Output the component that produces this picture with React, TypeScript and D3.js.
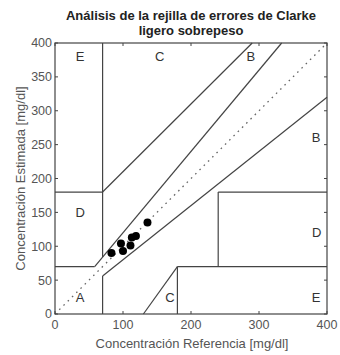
import React from "react";
import * as d3 from "d3";

const refValues = [83, 97, 100, 111, 113, 119, 136];
const estValues = [90, 104, 93, 101, 113, 115, 135];
const ticks = [0, 100, 200, 300, 400];
const yTicks = [0, 50, 100, 150, 200, 250, 300, 350, 400];
const zoneSegments: [number, number, number, number][] = [
  [0, 70, 175 / 3, 70],
  [175 / 3, 70, 400 / 1.2, 400],
  [70, 84, 70, 400],
  [0, 180, 70, 180],
  [70, 180, 290, 400],
  [70, 0, 70, 56],
  [70, 56, 400, 320],
  [180, 0, 180, 70],
  [180, 70, 400, 70],
  [240, 70, 240, 180],
  [240, 180, 400, 180],
  [130, 0, 180, 70],
];
const zoneLabels = ["E", "C", "B", "B", "D", "D", "A", "C", "E"];
const labelX = [37, 154, 288, 384, 37, 385, 37, 169, 384];
const labelY = [380, 380, 380, 260, 150, 120, 25, 25, 25];

export default function App() {
  const x = d3.scaleLinear().domain([0, 400]).range([55, 327]);
  const y = d3.scaleLinear().domain([0, 400]).range([314, 43]);
  const font = "'Liberation Sans', Arial, sans-serif";
  const gray = "#555";
  return (
    <svg width={340} height={355} style={{ position: "absolute", left: 0, top: 0 }} fontFamily={font}>
      <rect width={340} height={355} fill="#fff" />
      <text x={191} y={20} textAnchor="middle" fontSize={13} fontWeight="bold" fill="#222">
        Análisis de la rejilla de errores de Clarke
      </text>
      <text x={191} y={35} textAnchor="middle" fontSize={13} fontWeight="bold" fill="#222">
        ligero sobrepeso
      </text>
      <line x1={x(0)} y1={y(0)} x2={x(400)} y2={y(400)} stroke="#666" strokeDasharray="1.6,4.4" strokeWidth={1.3} />
      {zoneSegments.map((s, i) => (
        <line key={i} x1={x(s[0])} y1={y(s[1])} x2={x(s[2])} y2={y(s[3])} stroke="#444" strokeWidth={1.2} />
      ))}
      {zoneLabels.map((l, i) => (
        <text key={i} x={x(labelX[i])} y={y(labelY[i])} dy="0.35em" textAnchor="middle" fontSize={13} fill="#333">
          {l}
        </text>
      ))}
      {refValues.map((v, i) => (
        <circle key={i} cx={x(v)} cy={y(estValues[i])} r={4} fill="#000" />
      ))}
      <rect x={x(0)} y={y(400)} width={x(400) - x(0)} height={y(0) - y(400)} fill="none" stroke="#444" strokeWidth={1.2} />
      {ticks.map((t) => (
        <g key={"x" + t}>
          <line x1={x(t)} x2={x(t)} y1={y(0)} y2={y(0) - 3} stroke="#444" />
          <line x1={x(t)} x2={x(t)} y1={y(400)} y2={y(400) + 3} stroke="#444" />
          <text x={x(t)} y={y(0) + 15} textAnchor="middle" fontSize={12.5} fill={gray}>
            {t}
          </text>
        </g>
      ))}
      {yTicks.map((t) => (
        <g key={"y" + t}>
          <line x1={x(0)} x2={x(0) + 3} y1={y(t)} y2={y(t)} stroke="#444" />
          <line x1={x(400)} x2={x(400) - 3} y1={y(t)} y2={y(t)} stroke="#444" />
          <text x={x(0) - 3} y={y(t)} dy="0.35em" textAnchor="end" fontSize={12.5} fill={gray}>
            {t}
          </text>
        </g>
      ))}
      <text x={192} y={348} textAnchor="middle" fontSize={13} fill={gray}>
        Concentración Referencia [mg/dl]
      </text>
      <text transform={`translate(25,${(y(0) + y(400)) / 2}) rotate(-90)`} textAnchor="middle" fontSize={13} fill={gray}>
        Concentración Estimada [mg/dl]
      </text>
    </svg>
  );
}
